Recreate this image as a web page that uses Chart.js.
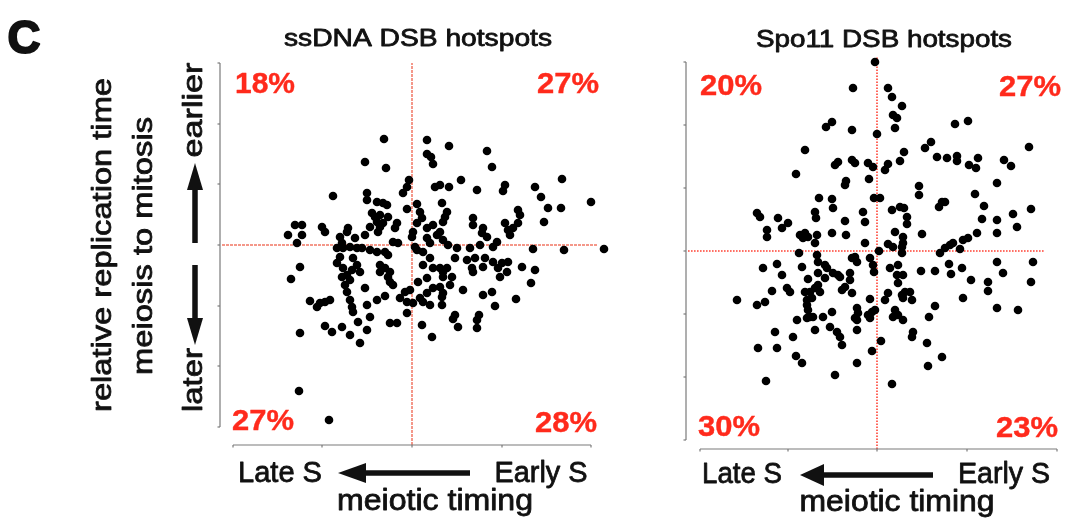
<!DOCTYPE html>
<html><head><meta charset="utf-8">
<script src="https://cdn.jsdelivr.net/npm/chart.js@4.4.0/dist/chart.umd.min.js"></script>
<style>
html,body{margin:0;padding:0;background:#fff;width:1078px;height:529px;overflow:hidden;}
#w1{position:absolute;left:0;top:0;width:640px;height:529px;}
#w2{position:absolute;left:640px;top:0;width:438px;height:529px;}
</style></head><body>
<div id="w1"><canvas id="c1"></canvas></div>
<div id="w2"><canvas id="c2"></canvas></div>
<script>
// ---- DATA (arbitrary units: meiotic timing offset, relative replication time offset) ----
const ssdnaTiming = [-28,15,-47,-26,15,19,21,-3,-5,-9,23,28,-79,-45,-45,-35,-29,-25,5,-5,30,-40,-37,-32,-24,-35,-29,8,10,-15,-17,-42,-34,-32,5,1,0,15,21,25,15,18,28,-117,-110,-124,-110,-115,-90,-87,-64,-65,-72,-70,-75,-69,-57,-47,-62,-55,-50,-42,-35,-27,-24,-19,-14,3,5,-112,-72,-75,-59,-55,-69,-60,-52,-32,-27,-22,11,18,11,21,28,
 37,75,80,49,37,65,93,91,123,129,150,179,136,149,132,35,33,31,106,108,106,101,98,93,96,61,61,71,70,75,85,81,31,36,45,58,68,121,152,192,43,55,63,73,81,90,96,60,71,86,95,110,123,35,31,
 -121,-70,-65,-62,-67,-65,-32,-24,-22,-19,-47,-102,-92,-87,-82,-95,-62,-60,-59,-54,-45,-42,-35,-27,-12,-7,-2,-5,1,8,15,11,18,6,15,21,28,30,-5,-22,-15,10,20,-87,-80,-70,-62,-52,-45,-112,-113,-83,
 61,88,119,31,40,38,31,30,51,71,80,83,104,43,41,46,67,65,65];
const ssdnaReplication = [106,105,83,77,91,88,81,65,58,52,58,60,49,52,45,43,42,40,41,36,42,32,28,30,28,23,22,33,27,22,17,18,13,18,22,13,8,17,20,10,7,2,13,20,20,10,10,2,18,13,17,13,8,2,-3,-3,7,10,-2,-3,-3,-5,-7,-7,-10,3,2,-2,-5,-22,-12,-18,-13,-20,-23,-25,-27,-20,-23,-27,-7,-13,-20,-23,-23,
 99,94,78,65,58,55,60,54,58,48,66,43,37,37,23,33,28,23,35,30,22,17,10,22,15,27,20,17,12,8,3,-2,5,0,-3,-3,0,-4,-5,-4,-13,-15,-13,-13,-17,-18,-17,-23,-22,-23,-27,-22,-25,-23,-27,
 -34,-32,-30,-35,-40,-47,-27,-32,-37,-40,-43,-56,-58,-57,-55,-62,-55,-62,-67,-77,-60,-72,-55,-51,-53,-47,-45,-57,-58,-53,-48,-57,-60,-37,-33,-43,-42,-52,-68,-78,-78,-80,-92,-81,-87,-82,-90,-98,-85,-88,-146,-175,
 -27,-32,-38,-32,-32,-40,-48,-60,-45,-50,-47,-61,-54,-70,-74,-82,-70,-75,-83];

const spo11Timing = [-2,-24,-45,-51,-25,0,-72,-42,-39,-25,-22,-9,-4,8,-81,-31,-32,-8,-58,-45,-44,-3,3,-120,-117,-99,-89,-62,-61,-14,-12,-32,
 11,15,25,16,20,18,78,91,152,48,54,27,23,11,60,70,80,80,92,99,101,127,134,120,42,42,98,65,68,62,107,15,23,27,30,105,120,136,154,
 -110,-110,-95,-77,-72,-69,-74,-60,-62,-45,-31,-12,2,-78,-60,-59,-52,-50,-25,-22,-20,
 -7,-4,-3,-114,-100,-95,-75,-69,-59,-52,-44,-39,-37,-27,-27,-105,-90,-87,-140,-120,-112,-72,-67,-62,-59,-57,-70,-65,-70,-69,-67,-70,-64,-80,-54,-45,-35,-32,-25,-20,-19,-22,-20,-7,-9,-5,-2,-7,-47,-40,-37,-35,-62,-102,-84,-119,-100,-81,-75,-20,4,-5,-20,-42,-111,
 30,18,26,26,25,45,11,16,25,63,68,73,76,83,86,91,100,
 120,140,13,21,20,26,21,44,58,72,74,85,120,126,156,154,94,111,111,11,8,25,28,33,35,26,86,58,52,120,141,18,16,21,26,36,35,50,65,51,15];
const spo11Replication = [189,163,129,124,121,117,101,86,89,91,88,88,84,81,77,70,66,72,53,52,43,53,53,38,34,33,28,39,33,39,29,30,
 163,154,145,136,133,123,127,130,104,103,109,99,90,87,94,93,95,90,86,83,93,91,85,68,65,56,57,49,49,44,45,41,44,43,34,32,31,37,42,
 21,14,23,16,18,14,13,16,8,18,16,8,0,-2,-4,-11,-14,-17,-7,-6,-11,
 -7,-14,-21,-17,-13,-24,-16,-28,-22,-27,-22,-24,-26,-22,-29,-40,-37,-41,-49,-54,-51,-41,-41,-37,-34,-41,-49,-47,-54,-59,-66,-67,-66,-69,-66,-61,-39,-36,-42,-57,-62,-67,-69,-48,-64,-61,-59,-67,-76,-81,-86,-94,-79,-81,-86,-97,-97,-105,-112,-79,-90,-100,-112,-124,-130,
 27,19,14,8,4,17,7,4,-2,-2,3,6,8,2,11,13,18,
 18,24,-17,-14,-24,-24,-32,-20,-20,-13,-23,-17,-11,-22,-11,-31,-29,-31,-40,-42,-49,-44,-41,-41,-49,-47,-47,-55,-66,-57,-59,-59,-66,-64,-69,-81,-86,-92,-106,-115,-133];

const ssdnaQuadrants = ['18%','27%','27%','28%'];   // top-left, top-right, bottom-left, bottom-right
const spo11Quadrants = ['20%','27%','30%','23%'];
const ssdnaXTicks = [-179,-90,0,90,179];
const ssdnaYTicks = [-182,-121,-61,0,61,121,182];
const spo11XTicks = [-177,-89,0,90,180];
const spo11YTicks = [-189,-126,-63,0,63,126,189];
const panelTitles = ['ssDNA DSB hotspots','Spo11 DSB hotspots'];
const xEndLabels = ['Late S','Early S'];
const xAxisTitle = 'meiotic timing';
const yAxisTitle = ['relative replication time','meiosis to mitosis'];
const yEndLabels = ['earlier','later'];
const panelLetter = 'C';

// ---- helpers ----
const FONT = '"Liberation Sans", Arial, Helvetica, sans-serif';
const INK = '#111111', RED = '#ff2a1c';
function zip(xs, ys){ return xs.map((x,i)=>({x:x, y:ys[i]})); }
function txt(ctx, s, cx, by, size, width, o){
  o = o || {};
  ctx.save();
  ctx.font = (o.bold ? 'bold ' : '') + size + 'px ' + FONT;
  ctx.fillStyle = o.color || INK;
  ctx.translate(cx, by);
  if (o.rot) ctx.rotate(o.rot);
  const w = ctx.measureText(s).width;
  ctx.scale(width / w, 1);
  ctx.textAlign = 'center'; ctx.textBaseline = 'alphabetic';
  ctx.fillText(s, 0, 0);
  const sw = o.stroke === undefined ? 0.8 : o.stroke;
  if (sw > 0) { ctx.strokeStyle = o.color || INK; ctx.lineWidth = sw; ctx.lineJoin = 'round'; ctx.strokeText(s, 0, 0); }
  ctx.restore();
}
function arrow(ctx, tx, ty, hx, hy, headLen, headHalf, thick){
  const a = Math.atan2(hy - ty, hx - tx);
  const bx = hx - Math.cos(a) * headLen, byy = hy - Math.sin(a) * headLen;
  ctx.save();
  ctx.strokeStyle = INK; ctx.fillStyle = INK; ctx.lineWidth = thick; ctx.lineCap = 'butt';
  ctx.beginPath(); ctx.moveTo(tx, ty); ctx.lineTo(bx + Math.cos(a)*2, byy + Math.sin(a)*2); ctx.stroke();
  ctx.beginPath();
  ctx.moveTo(hx, hy);
  ctx.lineTo(bx - Math.sin(a) * headHalf, byy + Math.cos(a) * headHalf);
  ctx.lineTo(bx + Math.sin(a) * headHalf, byy - Math.cos(a) * headHalf);
  ctx.closePath(); ctx.fill();
  ctx.restore();
}

function makePanel(id, cfg){
  const deco = {
    id: 'deco' + id,
    afterDraw(chart){
      const ctx = chart.ctx, xs = chart.scales.x, ys = chart.scales.y, ca = chart.chartArea;
      ctx.save();
      ctx.strokeStyle = '#7a7a7a'; ctx.lineWidth = 1.2;
      // left axis
      const lx = ca.left;
      const yt = cfg.yTicks.map(v => ys.getPixelForValue(v));
      ctx.beginPath(); ctx.moveTo(lx, Math.min(...yt)); ctx.lineTo(lx, Math.max(...yt)); ctx.stroke();
      yt.forEach(p => { ctx.beginPath(); ctx.moveTo(lx, p); ctx.lineTo(lx - 2.5, p); ctx.stroke(); });
      // bottom axis
      const by = ca.bottom;
      const xt = cfg.xTicks.map(v => xs.getPixelForValue(v));
      ctx.beginPath(); ctx.moveTo(Math.min(...xt), by); ctx.lineTo(Math.max(...xt), by); ctx.stroke();
      xt.forEach(p => { ctx.beginPath(); ctx.moveTo(p, by); ctx.lineTo(p, by + 2.5); ctx.stroke(); });
      ctx.restore();
      cfg.draw(ctx);
    }
  };
  return new Chart(document.getElementById(id), {
    type: 'scatter',
    data: { datasets: [
      { type: 'line', data: [{x:0, y:cfg.vLine[0]}, {x:0, y:cfg.vLine[1]}], borderColor: cfg.red, borderWidth: cfg.redW, borderDash: cfg.dash, pointRadius: 0, order: 2, clip: false },
      { type: 'line', data: [{x:cfg.hLine[0], y:0}, {x:cfg.hLine[1], y:0}], borderColor: cfg.red, borderWidth: cfg.redW, borderDash: cfg.dash, pointRadius: 0, order: 2, clip: false },
      { data: zip(cfg.xs, cfg.ys), backgroundColor: '#000', borderWidth: 0, pointRadius: cfg.r, pointHoverRadius: cfg.r, order: 1, clip: false }
    ]},
    options: {
      responsive: true, maintainAspectRatio: false, animation: false, events: [],
      layout: { padding: cfg.pad },
      scales: {
        x: { type: 'linear', display: false, min: cfg.xMin, max: cfg.xMax },
        y: { type: 'linear', display: false, min: cfg.yMin, max: cfg.yMax }
      },
      plugins: { legend: { display: false }, tooltip: { enabled: false } }
    },
    plugins: [deco]
  });
}

// ---- panel 1 (also holds the shared y-axis label) ----
makePanel('c1', {
  xs: ssdnaTiming, ys: ssdnaReplication, r: 4.3,
  pad: { left: 220, right: 30, top: 62, bottom: 84 },
  xMin: -192, xMax: 198, yMin: -200, yMax: 183,
  vLine: [-200, 182], hLine: [-190, 186],
  red: 'rgba(240,112,92,0.95)', redW: 1.5, dash: [3, 1],
  xTicks: ssdnaXTicks, yTicks: ssdnaYTicks,
  draw(ctx){
    txt(ctx, panelLetter, 24, 53, 46, 33, { bold: true, stroke: 2 });
    txt(ctx, panelTitles[0], 418, 46, 24, 268);
    const q = ssdnaQuadrants;
    txt(ctx, q[0], 265, 93, 30, 60, { bold: true, color: RED, stroke: 0.4 });
    txt(ctx, q[1], 568, 93, 30, 62, { bold: true, color: RED, stroke: 0.4 });
    txt(ctx, q[2], 263, 430, 30, 62, { bold: true, color: RED, stroke: 0.4 });
    txt(ctx, q[3], 566, 432, 30, 62, { bold: true, color: RED, stroke: 0.4 });
    txt(ctx, xEndLabels[0], 280, 482, 30, 84);
    txt(ctx, xEndLabels[1], 541, 482, 30, 93);
    txt(ctx, xAxisTitle, 435, 510, 29, 196);
    arrow(ctx, 470, 473, 338, 473, 28, 10, 5.5);
    const R = -Math.PI / 2;
    txt(ctx, yAxisTitle[0], 111, 245, 27, 334, { rot: R });
    txt(ctx, yAxisTitle[1], 152, 246, 27, 258, { rot: R });
    txt(ctx, yEndLabels[0], 202, 110, 28, 95, { rot: R });
    txt(ctx, yEndLabels[1], 202, 380, 28, 64, { rot: R });
    arrow(ctx, 195, 243, 195, 163, 27, 8, 5.5);
    arrow(ctx, 195, 265, 195, 345, 27, 8, 5.5);
  }
});

// ---- panel 2 ----
makePanel('c2', {
  xs: spo11Timing, ys: spo11Replication, r: 4.3,
  pad: { left: 46, right: 16, top: 55, bottom: 80 },
  xMin: -191, xMax: 185, yMin: -198, yMax: 196,
  vLine: [-198, 194], hLine: [-189, 168],
  red: 'rgba(255,55,40,0.95)', redW: 1.6, dash: [1.6, 1.4],
  xTicks: spo11XTicks, yTicks: spo11YTicks,
  draw(ctx){
    txt(ctx, panelTitles[1], 244, 47, 24, 256);
    const q = spo11Quadrants;
    txt(ctx, q[0], 91, 95, 30, 62, { bold: true, color: RED, stroke: 0.4 });
    txt(ctx, q[1], 390, 96, 30, 62, { bold: true, color: RED, stroke: 0.4 });
    txt(ctx, q[2], 89, 436, 30, 62, { bold: true, color: RED, stroke: 0.4 });
    txt(ctx, q[3], 387, 437, 30, 62, { bold: true, color: RED, stroke: 0.4 });
    txt(ctx, xEndLabels[0], 102, 483, 30, 80);
    txt(ctx, xEndLabels[1], 364, 483, 30, 92);
    txt(ctx, xAxisTitle, 257, 511, 29, 195);
    arrow(ctx, 293, 475, 160, 475, 24, 11, 5.5);
  }
});
</script>
</body></html>
